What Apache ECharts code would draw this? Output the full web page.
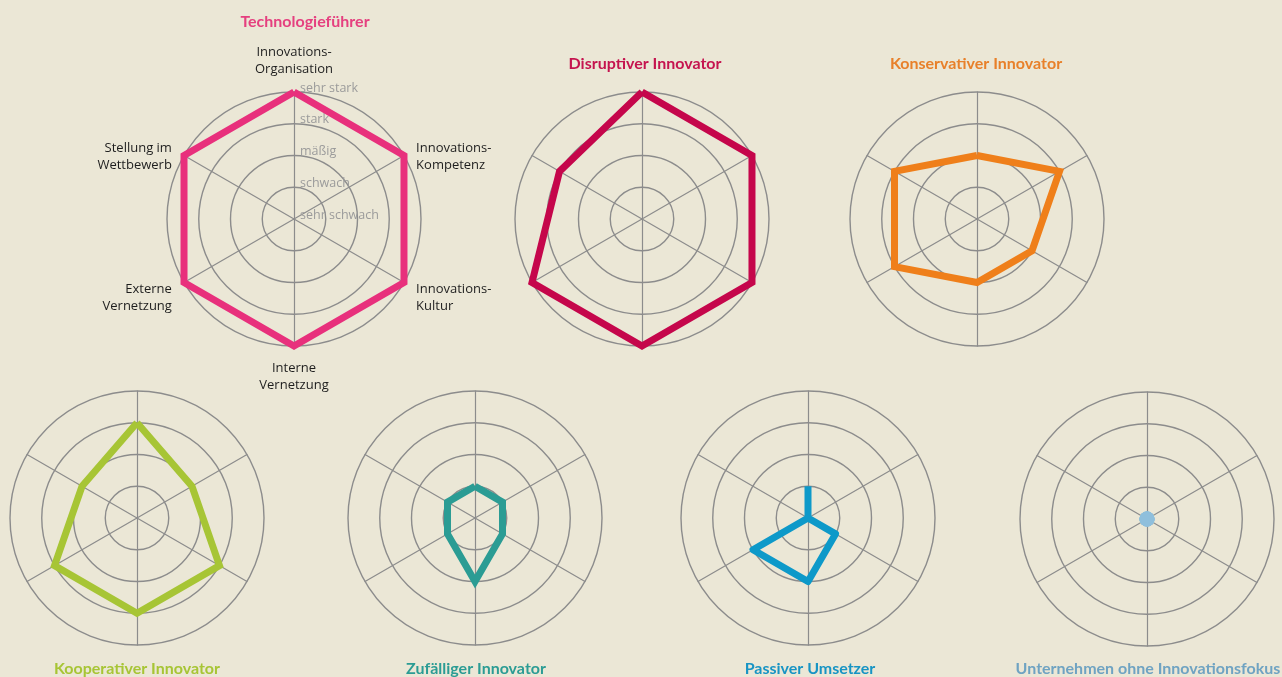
<!DOCTYPE html>
<html>
<head>
<meta charset="utf-8">
<script src="https://cdn.jsdelivr.net/npm/echarts@6/dist/echarts.min.js"></script>
<style>
  html, body { margin: 0; padding: 0; background: #ebe7d6; }
  #chart { width: 1282px; height: 677px; }
</style>
</head>
<body>
<div id="chart"></div>
<script>
var myChart = echarts.init(document.getElementById('chart'));

// axes, counter-clockwise from the top (echarts radar order)
var dimensions = [
    'Innovations-\nOrganisation',
    'Stellung im\nWettbewerb',
    'Externe\nVernetzung',
    'Interne\nVernetzung',
    'Innovations-\nKultur',
    'Innovations-\nKompetenz'
];
// 0 = sehr schwach ... 4 = sehr stark
var levels = ['sehr schwach', 'schwach', 'mäßig', 'stark', 'sehr stark'];

var names = [
    'Technologieführer',
    'Disruptiver Innovator',
    'Konservativer Innovator',
    'Kooperativer Innovator',
    'Zufälliger Innovator',
    'Passiver Umsetzer',
    'Unternehmen ohne Innovationsfokus'
];
var colors = ['#e8307c', '#c5064b', '#ef7f1a', '#a7c535', '#2b9c94', '#0d99c9', '#8fbfdc'];
var titleColors = ['#e5407f', '#c5144f', '#e8802a', '#a7c535', '#2b9c94', '#1794c4', '#6fa3c2'];

// values per type, same order as dimensions
var technologie = [4, 4, 4, 4, 4, 4];
var disruptiv   = [4, 3, 4, 4, 4, 4];
var konservativ = [2, 3, 3, 2, 2, 3];
var kooperativ  = [3, 2, 3, 3, 3, 2];
var zufaellig   = [1, 1, 1, 2, 1, 1];
var passiv      = [1, 0, 2, 2, 1, 0];
var ohneFokus   = [0, 0, 0, 0, 0, 0];
var values = [technologie, disruptiv, konservativ, kooperativ, zufaellig, passiv, ohneFokus];

var centers = [[294, 219], [642, 219], [977, 219], [137, 518], [475, 518], [808, 518], [1147, 519]];
var titlePos = [[305, 14], [645, 56], [976, 56], [137, 661], [476, 661], [810, 661], [1148, 661]];
var radius = 127;

var radars = [], series = [], titles = [];
for (let i = 0; i < names.length; i++) {
    let first = i === 0;
    radars.push({
        center: centers[i],
        radius: radius,
        startAngle: 90,
        shape: 'circle',
        splitNumber: 4,
        indicator: dimensions.map(function (d, k) {
            var ind = { name: d, min: 0, max: 4 };
            if (first && k === 0) {
                ind.axisLabel = {
                    show: true,
                    color: '#9b9b9b',
                    fontSize: 12.5,
                    fontFamily: 'Open Sans',
                    margin: -6,
                    align: 'left',
                    verticalAlign: 'bottom',
                    lineHeight: 8,
                    formatter: function (v) { return levels[Math.round(v)]; }
                };
            }
            return ind;
        }),
        axisName: {
            show: first,
            color: '#1e1e1e',
            fontSize: 13,
            lineHeight: 17,
            fontFamily: 'Open Sans',
            // side labels sit a bit lower than the spoke end
            formatter: function (n) {
                return (n.indexOf('Organisation') >= 0 || n.indexOf('Interne') >= 0) ? n : '\n' + n;
            }
        },
        nameGap: 14,
        axisLine: { lineStyle: { color: '#8c8c8c', width: 1.2 } },
        splitLine: { lineStyle: { color: '#8c8c8c', width: 1.4 } },
        splitArea: { show: false },
        axisTick: { show: false },
        axisLabel: { show: false }
    });
    let isDot = values[i].every(function (v) { return v === 0; });
    series.push({
        type: 'radar',
        radarIndex: i,
        silent: true,
        symbol: isDot ? 'circle' : 'none',
        symbolSize: 15,
        itemStyle: { color: colors[i] },
        lineStyle: {
            color: colors[i],
            width: isDot ? 0 : 7,
            join: i === 5 ? 'round' : 'miter',
            miterLimit: 20
        },
        data: [{ value: values[i], name: names[i] }]
    });
    titles.push({
        text: names[i],
        left: titlePos[i][0],
        top: titlePos[i][1],
        padding: 0,
        textAlign: 'center',
        textStyle: {
            color: titleColors[i],
            fontFamily: 'Lato',
            fontWeight: 'bold',
            fontSize: 16
        }
    });
}

var option = {
    backgroundColor: '#ebe7d6',
    animation: false,
    title: titles,
    radar: radars,
    series: series
};
myChart.setOption(option);
</script>
</body>
</html>
